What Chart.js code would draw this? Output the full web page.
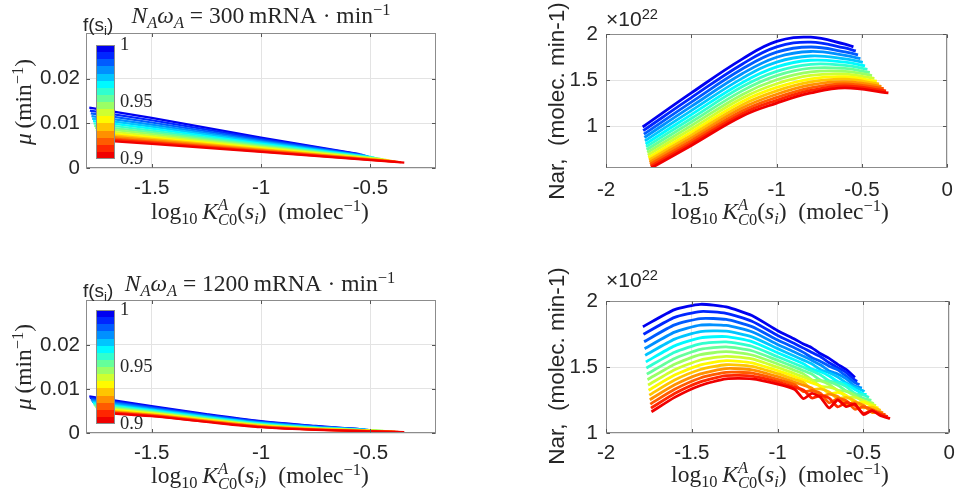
<!DOCTYPE html>
<html><head><meta charset="utf-8">
<script src="https://cdn.jsdelivr.net/npm/chart.js@4.4.1/dist/chart.umd.min.js"></script>
<style>
body{margin:0;background:#fff;}
#wrap{position:relative;width:963px;height:499px;background:#fff;overflow:hidden;}
canvas{position:absolute;}
.m{position:absolute;font-family:'Liberation Serif','Times New Roman',serif;font-size:23.5px;color:#262626;white-space:nowrap;line-height:1;}
.s{position:absolute;font-family:'Liberation Sans',Arial,sans-serif;font-size:19px;color:#262626;white-space:nowrap;line-height:1;}
.c{transform:translate(-50%,-50%);}
.r{transform:translate(-50%,-50%) rotate(-90deg);}
sub,sup{font-size:0.7em;line-height:0;}
sub{vertical-align:-0.3em;}
sup{vertical-align:0.5em;}
.stk{display:inline-flex;flex-direction:column;font-size:0.7em;line-height:0.9;vertical-align:0.55em;}
</style></head>
<body><div id="wrap">
<canvas id="c1" width="480" height="250" style="left:0;top:0;width:480px;height:250px"></canvas>
<canvas id="c2" width="483" height="250" style="left:480px;top:0;width:483px;height:250px"></canvas>
<canvas id="c3" width="480" height="249" style="left:0;top:250px;width:480px;height:249px"></canvas>
<canvas id="c4" width="483" height="249" style="left:480px;top:250px;width:483px;height:249px"></canvas>

<div class="m c" style="left:261px;top:16px"><i>N</i><sub><i>A</i></sub><i>ω</i><sub><i>A</i></sub>&#8197;=&#8197;300&#8201;mRNA&#8197;·&#8197;min<sup>−1</sup></div>
<div class="m c" style="left:260px;top:284px"><i>N</i><sub><i>A</i></sub><i>ω</i><sub><i>A</i></sub>&#8197;=&#8197;1200&#8201;mRNA&#8197;·&#8197;min<sup>−1</sup></div>

<div class="s" style="left:83px;top:15px;font-size:19px">f(s<sub>i</sub>)</div>
<div class="s" style="left:83px;top:281px;font-size:19px">f(s<sub>i</sub>)</div>

<div class="m r" style="left:24px;top:102px"><i>μ</i>&#8201;(min<sup>−1</sup>)</div>
<div class="m r" style="left:24px;top:367px"><i>μ</i>&#8201;(min<sup>−1</sup>)</div>

<div class="s r" style="left:557px;top:101px;font-size:22.5px">Nar,&nbsp; (molec. min-1)</div>
<div class="s r" style="left:557px;top:366px;font-size:22.5px">Nar,&nbsp; (molec. min-1)</div>

<div class="s" style="left:606px;top:8px;font-size:21px">×10<sup>22</sup></div>
<div class="s" style="left:606px;top:269px;font-size:21px">×10<sup>22</sup></div>

<div class="m c" style="left:260px;top:213px">log<sub>10</sub>&#8201;<i>K</i><span class="stk"><span><i>A</i></span><span><i>C</i>0</span></span>(<i>s</i><sub><i>i</i></sub>)&#8194;(molec<sup>−1</sup>)</div>
<div class="m c" style="left:780px;top:213px">log<sub>10</sub>&#8201;<i>K</i><span class="stk"><span><i>A</i></span><span><i>C</i>0</span></span>(<i>s</i><sub><i>i</i></sub>)&#8194;(molec<sup>−1</sup>)</div>
<div class="m c" style="left:260px;top:477px">log<sub>10</sub>&#8201;<i>K</i><span class="stk"><span><i>A</i></span><span><i>C</i>0</span></span>(<i>s</i><sub><i>i</i></sub>)&#8194;(molec<sup>−1</sup>)</div>
<div class="m c" style="left:780px;top:476px">log<sub>10</sub>&#8201;<i>K</i><span class="stk"><span><i>A</i></span><span><i>C</i>0</span></span>(<i>s</i><sub><i>i</i></sub>)&#8194;(molec<sup>−1</sup>)</div>
</div>
<script>
// ---- data ----
const fValues = [1.000,0.993,0.987,0.980,0.973,0.967,0.960,0.953,0.947,0.940,0.933,0.927,0.920,0.913,0.907,0.900];
const lineColors = ['#0000f0','#0026ff','#005bff','#0090ff','#00c5ff','#00faff','#30ffcf','#65ff9a','#9aff65','#cfff30','#fffa00','#ffc500','#ff9000','#ff5b00','#ff2600','#f00000'];
const cbTickValues = [1, 0.95, 0.9];
const cbTickLabels = ['1','0.95','0.9'];

const xStart = [-1.785,-1.782,-1.778,-1.775,-1.772,-1.768,-1.765,-1.762,-1.758,-1.755,-1.752,-1.748,-1.745,-1.742,-1.738,-1.735];
const xEnd   = [-0.55,-0.536,-0.523,-0.509,-0.495,-0.482,-0.468,-0.454,-0.441,-0.427,-0.413,-0.40,-0.386,-0.372,-0.359,-0.345];

const xTicksLeft = [-1.5,-1,-0.5];
const xTicksRight = [-2,-1.5,-1,-0.5,0];
const yTicksMu = [0,0.01,0.02];
const yTicksNar = [1,1.5,2];

// top-left: mu, N_A w_A = 300 (values at start, grid, end)
const gridTL = [-1.5,-1.0];
const muTL = [
[0.0135,0.0112,0.0068,0.0031],
[0.01285,0.01068,0.00652,0.00293],
[0.01222,0.01018,0.00624,0.00277],
[0.01162,0.00971,0.00598,0.00261],
[0.01104,0.00925,0.00572,0.00246],
[0.01049,0.0088,0.00548,0.00232],
[0.00995,0.00838,0.00524,0.00218],
[0.00944,0.00798,0.00502,0.00204],
[0.00896,0.00759,0.00481,0.00192],
[0.00849,0.00722,0.0046,0.0018],
[0.00805,0.00687,0.00441,0.00168],
[0.00764,0.00654,0.00423,0.00157],
[0.00724,0.00623,0.00406,0.00147],
[0.00687,0.00593,0.00389,0.00137],
[0.00652,0.00566,0.00374,0.00128],
[0.0062,0.0054,0.0036,0.0012]];

// top-right: Nar (x1e22), N_A w_A = 300
const gridTR = [-1.5,-1.2,-1.0,-0.8,-0.6];
const narTR = [
[0.99,1.36,1.73,1.92,1.965,1.89,1.86],
[0.950,1.309,1.675,1.860,1.911,1.848,1.816],
[0.912,1.260,1.622,1.803,1.859,1.807,1.773],
[0.876,1.214,1.571,1.748,1.810,1.768,1.732],
[0.840,1.168,1.521,1.694,1.761,1.730,1.692],
[0.806,1.125,1.474,1.643,1.715,1.694,1.654],
[0.774,1.083,1.429,1.594,1.671,1.659,1.617],
[0.743,1.043,1.385,1.548,1.629,1.626,1.582],
[0.713,1.005,1.344,1.503,1.589,1.595,1.549],
[0.685,0.969,1.305,1.460,1.550,1.564,1.517],
[0.658,0.935,1.268,1.420,1.514,1.536,1.487],
[0.633,0.902,1.232,1.382,1.479,1.509,1.459],
[0.609,0.872,1.199,1.346,1.447,1.483,1.432],
[0.586,0.842,1.167,1.312,1.416,1.459,1.406],
[0.565,0.815,1.137,1.280,1.387,1.436,1.382],
[0.545,0.79,1.11,1.25,1.36,1.415,1.36]];

// bottom-left: mu, N_A w_A = 1200
const gridBL = [-1.5,-1.25,-1.0,-0.75];
const muBL = [
[0.0083,0.0061,0.0043,0.0027,0.0016,0.0009],
[0.00797,0.0059,0.00414,0.00258,0.00152,0.00084],
[0.00765,0.0057,0.00399,0.00246,0.00144,0.00078],
[0.00735,0.00551,0.00384,0.00234,0.00137,0.00072],
[0.00705,0.00532,0.00369,0.00223,0.0013,0.00066],
[0.00677,0.00515,0.00356,0.00212,0.00123,0.00061],
[0.0065,0.00498,0.00343,0.00202,0.00116,0.00056],
[0.00624,0.00482,0.0033,0.00192,0.0011,0.00051],
[0.0060,0.00467,0.00318,0.00183,0.00104,0.00046],
[0.00576,0.00452,0.00307,0.00174,0.00098,0.00042],
[0.00554,0.00438,0.00296,0.00166,0.00093,0.00038],
[0.00533,0.00425,0.00285,0.00158,0.00088,0.00034],
[0.00513,0.00413,0.00276,0.0015,0.00083,0.0003],
[0.00494,0.00401,0.00267,0.00143,0.00078,0.00026],
[0.00476,0.0039,0.00258,0.00136,0.00074,0.00023],
[0.0046,0.0038,0.0025,0.0013,0.0007,0.0002]];

// bottom-right: Nar (x1e22), N_A w_A = 1200
const gridBR = [-1.6,-1.45,-1.3,-1.15,-1.0,-0.9,-0.85,-0.8,-0.75,-0.7,-0.65,-0.6,-0.55,-0.5,-0.45,-0.4];
const narBR = [
[1.805,1.935,1.975,1.955,1.89,1.775,1.71,1.675,1.645,1.60,1.565,1.52,1.48,1.42],
[1.748,1.876,1.920,1.907,1.847,1.739,1.676,1.643,1.609,1.578,1.532,1.495,1.458,1.400,1.392],
[1.692,1.819,1.867,1.860,1.806,1.704,1.644,1.611,1.570,1.542,1.506,1.478,1.430,1.382,1.366],
[1.639,1.764,1.817,1.815,1.767,1.671,1.612,1.581,1.550,1.515,1.470,1.447,1.410,1.356,1.340],
[1.588,1.711,1.768,1.771,1.728,1.639,1.582,1.552,1.522,1.480,1.456,1.424,1.380,1.346,1.319,1.312],
[1.539,1.660,1.721,1.730,1.692,1.608,1.553,1.524,1.485,1.464,1.432,1.390,1.370,1.329,1.296,1.292],
[1.492,1.612,1.676,1.690,1.657,1.578,1.525,1.498,1.470,1.440,1.395,1.382,1.351,1.300,1.288,1.269],
[1.446,1.565,1.633,1.652,1.623,1.550,1.499,1.472,1.445,1.400,1.388,1.362,1.318,1.298,1.262,1.248],
[1.404,1.521,1.593,1.616,1.591,1.523,1.474,1.448,1.402,1.395,1.367,1.323,1.316,1.283,1.239,1.228,1.222],
[1.363,1.479,1.553,1.581,1.561,1.497,1.449,1.425,1.400,1.354,1.347,1.325,1.275,1.269,1.246,1.217,1.207],
[1.324,1.439,1.516,1.548,1.532,1.473,1.427,1.403,1.379,1.354,1.299,1.307,1.285,1.226,1.233,1.206,1.189],
[1.287,1.401,1.481,1.517,1.505,1.450,1.405,1.382,1.329,1.335,1.311,1.261,1.270,1.243,1.191,1.196,1.171],
[1.252,1.365,1.448,1.488,1.479,1.428,1.384,1.362,1.340,1.277,1.294,1.276,1.217,1.232,1.210,1.156,1.159,1.154],
[1.219,1.331,1.417,1.460,1.454,1.407,1.365,1.314,1.322,1.300,1.229,1.261,1.244,1.180,1.199,1.177,1.150,1.139],
[1.188,1.299,1.387,1.434,1.431,1.388,1.347,1.326,1.265,1.285,1.264,1.198,1.231,1.210,1.149,1.168,1.142,1.124],
[1.16,1.27,1.36,1.41,1.41,1.37,1.33,1.26,1.30,1.27,1.19,1.25,1.20,1.22,1.14,1.17,1.13,1.11]];

// ---- drawing ----
Chart.defaults.font.family = "'Liberation Sans', Arial, sans-serif";
Chart.defaults.font.size = 20.5;
Chart.defaults.color = '#262626';

function buildPoints(vals, grid, i){
  const pts = [{x:xStart[i], y:vals[0]}];
  let k = 1;
  for (const g of grid){
    if (g > xStart[i] && g < xEnd[i] - 1e-6 && k < vals.length - 1) pts.push({x:g, y:vals[k++]});
  }
  pts.push({x:xEnd[i], y:vals[vals.length-1]});
  return pts;
}

const boxPlugin = {id:'box', afterDatasetsDraw(chart){
  const {ctx, chartArea:a, scales} = chart;
  ctx.save();
  ctx.strokeStyle = '#8c8c8c'; ctx.lineWidth = 1;
  const L = Math.round(a.left)+0.5, T = Math.round(a.top)+0.5, R = Math.round(a.right)-0.5, B = Math.round(a.bottom)-0.5;
  ctx.strokeRect(L, T, R-L, B-T);
  ctx.strokeStyle = '#555';
  ctx.beginPath();
  scales.x.ticks.forEach(t => { const p = Math.round(scales.x.getPixelForValue(t.value))+0.5; ctx.moveTo(p,B); ctx.lineTo(p,B-3.5); ctx.moveTo(p,T); ctx.lineTo(p,T+3.5); });
  scales.y.ticks.forEach(t => { const p = Math.round(scales.y.getPixelForValue(t.value))+0.5; ctx.moveTo(L,p); ctx.lineTo(L+3.5,p); ctx.moveTo(R,p); ctx.lineTo(R-3.5,p); });
  ctx.stroke();
  ctx.restore();
}};

const cbarPlugin = {id:'cbar', afterDatasetsDraw(chart, args, o){
  if (!o || !o.show) return;
  const {ctx, chartArea:a} = chart;
  const x = Math.round(a.left + o.dx), y0 = Math.round(a.top + o.dy), w = o.w, h = o.h;
  const n = lineColors.length;
  ctx.save();
  for (let k = 0; k < n; k++){
    const ya = Math.round(y0 + h*k/n), yb = Math.round(y0 + h*(k+1)/n);
    ctx.fillStyle = lineColors[k];
    ctx.fillRect(x, ya, w, yb-ya);
  }
  ctx.strokeStyle = '#8c8c8c'; ctx.lineWidth = 1;
  ctx.strokeRect(x+0.5, y0+0.5, w-1, h-1);
  ctx.fillStyle = '#262626';
  ctx.font = "18.5px 'Liberation Serif', serif";
  ctx.textBaseline = 'middle'; ctx.textAlign = 'left';
  const fMax = fValues[0], fMin = fValues[fValues.length-1];
  cbTickValues.forEach((v, j) => {
    const yy = y0 + h*(fMax - v)/(fMax - fMin);
    ctx.fillText(cbTickLabels[j], x + w + 5, yy);
  });
  ctx.restore();
}};

function makeChart(id, c){
  const datasets = c.series.map((vals, i) => ({
    label: 'f=' + fValues[i],
    data: buildPoints(vals, c.grid, i),
    borderColor: lineColors[i],
    backgroundColor: lineColors[i],
    borderWidth: c.lw,
    pointRadius: 0,
    tension: c.tension,
    fill: false,
    order: c.series.length - 1 - i
  }));
  return new Chart(document.getElementById(id), {
    type: 'line',
    data: {datasets},
    options: {
      responsive: false, animation: false, devicePixelRatio: 1, events: [],
      layout: {padding: {left: 0, top: c.top, right: c.right, bottom: 0}},
      plugins: {legend: {display: false}, tooltip: {enabled: false}, title: {display: false}, cbar: c.cbar},
      scales: {
        x: {type: 'linear', min: c.xmin, max: c.xmax,
            afterBuildTicks: s => { s.ticks = c.xticks.map(v => ({value: v})); },
            afterFit: s => { s.height = c.xh; },
            grid: {color: '#e3e3e3', drawTicks: false, lineWidth: 1},
            border: {display: false},
            ticks: {padding: c.xpad, maxRotation: 0, autoSkip: false, callback: v => String(v)}},
        y: {type: 'linear', min: c.ymin, max: c.ymax,
            afterBuildTicks: s => { s.ticks = c.yticks.map(v => ({value: v})); },
            afterFit: s => { s.width = c.yw; },
            grid: {color: '#e3e3e3', drawTicks: false, lineWidth: 1},
            border: {display: false},
            ticks: {padding: c.ypad, autoSkip: false, callback: v => String(v)}}
      }
    },
    plugins: [boxPlugin, cbarPlugin]
  });
}

makeChart('c1', {series: muTL, grid: gridTL, lw: 2.2, tension: 0, top: 33, right: 44, xh: 82, yw: 86,
  xmin: -1.8, xmax: -0.2, ymin: 0, ymax: 0.0302, xticks: xTicksLeft, yticks: yTicksMu, xpad: 8, ypad: 6,
  cbar: {show: true, dx: 10, dy: 12, w: 19, h: 114}});
makeChart('c2', {series: narTR, grid: gridTR, lw: 2.8, tension: 0.4, top: 34, right: 8, xh: 82, yw: 126,
  xmin: -2, xmax: 0, ymin: 0.545, ymax: 2, xticks: xTicksRight, yticks: yTicksNar, xpad: 10, ypad: 8,
  cbar: {show: false}});
makeChart('c3', {series: muBL, grid: gridBL, lw: 2.2, tension: 0.3, top: 50, right: 44, xh: 66, yw: 86,
  xmin: -1.8, xmax: -0.2, ymin: 0, ymax: 0.0302, xticks: xTicksLeft, yticks: yTicksMu, xpad: 8, ypad: 6,
  cbar: {show: true, dx: 10, dy: 10, w: 19, h: 114}});
makeChart('c4', {series: narBR, grid: gridBR, lw: 2.8, tension: 0.2, top: 51, right: 8, xh: 66, yw: 126,
  xmin: -2, xmax: 0, ymin: 1, ymax: 2, xticks: xTicksRight, yticks: yTicksNar, xpad: 8, ypad: 8,
  cbar: {show: false}});
</script>
</body></html>
